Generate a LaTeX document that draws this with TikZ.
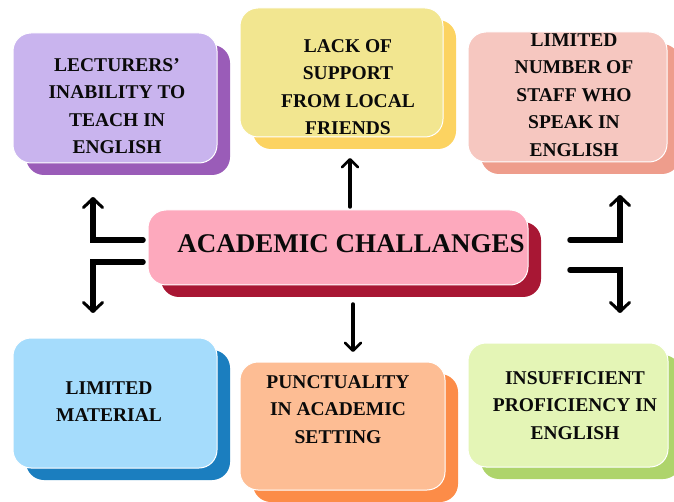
\documentclass[tikz,border=0pt]{standalone}
\usepackage{fontspec}
\setmainfont{Liberation Serif}
\usetikzlibrary{shadows,arrows.meta}

% card fills (face / offset backing)
\definecolor{lavFace}{HTML}{C9B4EE}
\definecolor{lavBack}{HTML}{9A5CB8}
\definecolor{yelFace}{HTML}{F2E690}
\definecolor{yelBack}{HTML}{FCD361}
\definecolor{rosFace}{HTML}{F6C7C0}
\definecolor{rosBack}{HTML}{EE9D8C}
\definecolor{skyFace}{HTML}{A5DCFC}
\definecolor{skyBack}{HTML}{1B7EBF}
\definecolor{pchFace}{HTML}{FDBD94}
\definecolor{pchBack}{HTML}{FC8C48}
\definecolor{limFace}{HTML}{E4F5B6}
\definecolor{limBack}{HTML}{AED46B}
\definecolor{hubFace}{HTML}{FDA9BD}
\definecolor{hubBack}{HTML}{A81734}
\definecolor{ink}{HTML}{0A0A0A}

\begin{document}
\begin{tikzpicture}[x=1pt,y=-1pt,
  card/.style={rectangle, rounded corners=18pt, draw=white, line width=1pt,
    inner sep=0pt, minimum width=#1},
  backing/.style={general shadow={fill=#1, shadow xshift=13pt, shadow yshift=-12pt}},
  cardtext/.style={align=center, text=ink,
    font=\fontsize{19.5}{27.5}\selectfont\bfseries},
  hubtext/.style={align=center, text=ink,
    font=\fontsize{27}{32}\selectfont\bfseries},
  elbow/.style={line width=5.5pt, line join=miter, line cap=round,
    -{Straight Barb[length=9pt,width=19pt,line width=3pt,round]}},
  stem/.style={line width=3.5pt, line cap=round,
    -{Straight Barb[length=8pt,width=16pt,line width=2.6pt,round]}}]
\useasboundingbox (0,0) rectangle (674,502);

% cards
\node[card=204pt, minimum height=130pt, fill=lavFace, backing=lavBack] (lect) at (115,98) {};
\node[card=203pt, minimum height=129pt, fill=yelFace, backing=yelBack] (lack) at (341.5,72.5) {};
\node[card=199pt, minimum height=130pt, fill=rosFace, backing=rosBack] (staff) at (567.5,97) {};
\node[card=204pt, minimum height=130pt, fill=skyFace, backing=skyBack] (mat) at (115,403) {};
\node[card=205pt, minimum height=128pt, fill=pchFace, backing=pchBack] (punc) at (342.5,426) {};
\node[card=200pt, minimum height=124pt, fill=limFace, backing=limBack] (prof) at (568,405) {};
\node[card=380pt, minimum height=75pt, fill=hubFace, backing=hubBack] (hub) at (338,247.5) {};

% card texts
\node[cardtext] (lectT) at (117,106) {LECTURERS’\\INABILITY TO\\TEACH IN\\ENGLISH};
\node[cardtext] (lackT) at (348,87) {LACK OF\\SUPPORT\\FROM LOCAL\\FRIENDS};
\node[cardtext] (staffT) at (574,95) {LIMITED\\NUMBER OF\\STAFF WHO\\SPEAK IN\\ENGLISH};
\node[cardtext] (matT) at (109,401.5) {LIMITED\\MATERIAL};
\node[cardtext] (puncT) at (338,409.5) {PUNCTUALITY\\IN ACADEMIC\\SETTING};
\node[cardtext] (profT) at (575,405.5) {INSUFFICIENT\\PROFICIENCY IN\\ENGLISH};
\node[hubtext] (hubT) at (351,244) {ACADEMIC CHALLANGES};

% arrow end points
\coordinate (ltA) at (143,240);  \coordinate (ltB) at (93,197);
\coordinate (lbA) at (143,262);  \coordinate (lbB) at (93,313);
\coordinate (rtA) at (570,240);  \coordinate (rtB) at (620,195);
\coordinate (rbA) at (570,270);  \coordinate (rbB) at (620,313);
\coordinate (upA) at (350,207);  \coordinate (upB) at (350,158);
\coordinate (dnA) at (353,304);  \coordinate (dnB) at (353,352);

% arrows
\draw[elbow] (ltA) -| (ltB);
\draw[elbow] (lbA) -| (lbB);
\draw[elbow] (rtA) -| (rtB);
\draw[elbow] (rbA) -| (rbB);
\draw[stem] (upA) -- (upB);
\draw[stem] (dnA) -- (dnB);
\end{tikzpicture}
\end{document}
